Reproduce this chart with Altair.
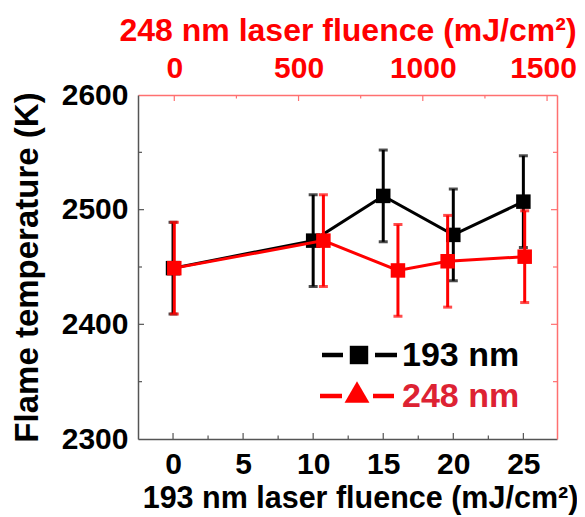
import altair as alt
import pandas as pd

# ---- data ----
fluence_193 = [0, 10, 15, 20, 25]
temp_193 = [2449, 2473, 2512, 2478, 2507]
err_193 = [40, 40, 40, 40, 40]

fluence_248 = [0, 600, 900, 1100, 1410]
temp_248 = [2449, 2473, 2447, 2455, 2459]
err_248 = [40, 40, 40, 40, 40]

series_names = ["193 nm", "248 nm"]

x193_major = [0, 5, 10, 15, 20, 25]
x193_minor = [2.5, 7.5, 12.5, 17.5, 22.5]
x248_major = [0, 500, 1000, 1500]
x248_minor = [250, 750, 1250]
y_labels = [2300, 2400, 2500, 2600]
y_major = [2400, 2500]
y_minor = [2350, 2450, 2550]

# ---- style ----
W, H = 419, 344
FONT = "Liberation Sans"
BLACK = "#000000"
RED = "#ff0000"
FRAME_DARK = "#555555"
FRAME_RED = "#ff7070"

d193 = pd.DataFrame({
    "f": fluence_193, "t": temp_193,
    "lo": [t - e for t, e in zip(temp_193, err_193)],
    "hi": [t + e for t, e in zip(temp_193, err_193)],
})
d248 = pd.DataFrame({
    "f": fluence_248, "t": temp_248,
    "lo": [t - e for t, e in zip(temp_248, err_248)],
    "hi": [t + e for t, e in zip(temp_248, err_248)],
})

xb_scale = alt.Scale(domain=[-2.5, 27.4], nice=False, zero=False)
xt_scale = alt.Scale(domain=[-146, 1540], nice=False, zero=False)
y_scale = alt.Scale(domain=[2300, 2600], nice=False, zero=False)

xb_axis = alt.Axis(
    values=x193_major, format="d", ticks=False, grid=False, domain=True,
    domainColor=FRAME_DARK, domainWidth=1.5,
    labelFont=FONT, labelFontSize=30, labelFontWeight="bold", labelColor=BLACK,
    labelPadding=10, labelFlush=False,
    title="193 nm laser fluence (mJ/cm²)", titleFont=FONT, titleFontSize=30.5,
    titleFontWeight="bold", titleColor=BLACK, titlePadding=4, titleX=222,
)
yl_axis = alt.Axis(
    values=y_labels, format="d", ticks=False, grid=False, domain=True,
    domainColor=FRAME_DARK, domainWidth=1.5,
    labelFont=FONT, labelFontSize=30, labelFontWeight="bold", labelColor=BLACK,
    labelPadding=10, labelFlush=False,
    title="Flame temperature (K)", titleFont=FONT, titleFontSize=33,
    titleFontWeight="bold", titleColor=BLACK, titlePadding=17,
)
xt_axis = alt.Axis(
    orient="top", values=x248_major, format="d", ticks=False, grid=False, domain=True,
    domainColor=FRAME_RED, domainWidth=1.5,
    labelFont=FONT, labelFontSize=30, labelFontWeight="bold", labelColor=RED,
    labelPadding=12, labelFlush=False,
    labelOffset={"expr": "datum.value == 1500 ? -4 : 0"},
    title="248 nm laser fluence (mJ/cm²)", titleFont=FONT, titleFontSize=32,
    titleFontWeight="bold", titleColor=RED, titlePadding=6,
)
yr_axis = alt.Axis(
    orient="right", values=y_labels, ticks=False, grid=False, domain=True,
    domainColor=FRAME_RED, domainWidth=1.5, labels=False, title=None,
)

# ---- black (193 nm) group: bottom x, left y ----
bx = alt.X("f:Q", scale=xb_scale, axis=xb_axis)
base_b = alt.Chart(d193)
b_line = base_b.mark_line(color=BLACK, strokeWidth=3).encode(
    x=bx, y=alt.Y("t:Q", scale=y_scale, axis=yl_axis))
b_err = base_b.mark_rule(color=BLACK, strokeWidth=3).encode(
    x=bx, y=alt.Y("lo:Q", scale=y_scale, axis=yl_axis), y2="hi:Q")
b_cap_lo = base_b.mark_tick(color=BLACK, orient="horizontal", size=9, thickness=3).encode(
    x=bx, y=alt.Y("lo:Q", scale=y_scale, axis=yl_axis))
b_cap_hi = base_b.mark_tick(color=BLACK, orient="horizontal", size=9, thickness=3).encode(
    x=bx, y=alt.Y("hi:Q", scale=y_scale, axis=yl_axis))
b_pts = base_b.mark_point(shape="square", filled=True, color=BLACK, size=210, opacity=1).encode(
    x=bx, y=alt.Y("t:Q", scale=y_scale, axis=yl_axis))

tick_b_major = alt.Chart(pd.DataFrame({"v": x193_major})).mark_rule(color=FRAME_DARK, strokeWidth=1.2).encode(
    x=alt.X("v:Q", scale=xb_scale, axis=xb_axis), y=alt.value(H), y2=alt.value(H - 6))
tick_b_minor = alt.Chart(pd.DataFrame({"v": x193_minor})).mark_rule(color=FRAME_DARK, strokeWidth=1.2).encode(
    x=alt.X("v:Q", scale=xb_scale, axis=xb_axis), y=alt.value(H), y2=alt.value(H - 3.5))
tick_l_major = alt.Chart(pd.DataFrame({"v": y_major})).mark_rule(color=FRAME_DARK, strokeWidth=1.2).encode(
    y=alt.Y("v:Q", scale=y_scale, axis=yl_axis), x=alt.value(0), x2=alt.value(6))
tick_l_minor = alt.Chart(pd.DataFrame({"v": y_minor})).mark_rule(color=FRAME_DARK, strokeWidth=1.2).encode(
    y=alt.Y("v:Q", scale=y_scale, axis=yl_axis), x=alt.value(0), x2=alt.value(4))

# legend (manual, inside plot)
leg1 = pd.DataFrame({"name": [series_names[0]]})
leg2 = pd.DataFrame({"name": [series_names[1]]})
lg_b_l = alt.Chart(leg1).mark_rule(color=BLACK, strokeWidth=4.5).encode(
    x=alt.value(184), x2=alt.value(205), y=alt.value(260))
lg_b_r = alt.Chart(leg1).mark_rule(color=BLACK, strokeWidth=4.5).encode(
    x=alt.value(237), x2=alt.value(259), y=alt.value(260))
lg_b_pt = alt.Chart(leg1).mark_point(shape="square", filled=True, color=BLACK, size=340, opacity=1).encode(
    x=alt.value(221), y=alt.value(260))
lg_b_tx = alt.Chart(leg1).mark_text(align="left", baseline="middle", font=FONT, fontSize=34,
                                    fontWeight="bold", color=BLACK).encode(
    x=alt.value(264), y=alt.value(261), text="name:N")
lg_r_l = alt.Chart(leg2).mark_rule(color=RED, strokeWidth=4.5).encode(
    x=alt.value(182), x2=alt.value(204), y=alt.value(301))
lg_r_r = alt.Chart(leg2).mark_rule(color=RED, strokeWidth=4.5).encode(
    x=alt.value(235), x2=alt.value(256), y=alt.value(301))
lg_r_pt = alt.Chart(leg2).mark_point(shape="triangle-up", filled=True, color=RED, size=620, opacity=1).encode(
    x=alt.value(219), y=alt.value(297))
lg_r_tx = alt.Chart(leg2).mark_text(align="left", baseline="middle", font=FONT, fontSize=34,
                                    fontWeight="bold", color="#dd2233").encode(
    x=alt.value(264), y=alt.value(302), text="name:N")

black_group = alt.layer(
    tick_b_major, tick_b_minor, tick_l_major, tick_l_minor,
    b_line, b_err, b_cap_lo, b_cap_hi, b_pts,
    lg_b_l, lg_b_r, lg_b_pt, lg_b_tx, lg_r_l, lg_r_r, lg_r_pt, lg_r_tx,
)

# ---- red (248 nm) group: top x, right y ----
rx = alt.X("f:Q", scale=xt_scale, axis=xt_axis)
base_r = alt.Chart(d248)
r_line = base_r.mark_line(color=RED, strokeWidth=3).encode(
    x=rx, y=alt.Y("t:Q", scale=y_scale, axis=yr_axis))
r_err = base_r.mark_rule(color=RED, strokeWidth=3).encode(
    x=rx, y=alt.Y("lo:Q", scale=y_scale, axis=yr_axis), y2="hi:Q")
r_cap_lo = base_r.mark_tick(color=RED, orient="horizontal", size=9, thickness=3).encode(
    x=rx, y=alt.Y("lo:Q", scale=y_scale, axis=yr_axis))
r_cap_hi = base_r.mark_tick(color=RED, orient="horizontal", size=9, thickness=3).encode(
    x=rx, y=alt.Y("hi:Q", scale=y_scale, axis=yr_axis))
r_pts = base_r.mark_point(shape="square", filled=True, color=RED, size=210, opacity=1).encode(
    x=rx, y=alt.Y("t:Q", scale=y_scale, axis=yr_axis))

tick_t_major = alt.Chart(pd.DataFrame({"v": x248_major})).mark_rule(color=FRAME_RED, strokeWidth=1.2).encode(
    x=alt.X("v:Q", scale=xt_scale, axis=xt_axis), y=alt.value(0), y2=alt.value(6))
tick_t_minor = alt.Chart(pd.DataFrame({"v": x248_minor})).mark_rule(color=FRAME_RED, strokeWidth=1.2).encode(
    x=alt.X("v:Q", scale=xt_scale, axis=xt_axis), y=alt.value(0), y2=alt.value(3.5))
tick_r_major = alt.Chart(pd.DataFrame({"v": y_major})).mark_rule(color=FRAME_RED, strokeWidth=1.2).encode(
    y=alt.Y("v:Q", scale=y_scale, axis=yr_axis), x=alt.value(W), x2=alt.value(W - 6))
tick_r_minor = alt.Chart(pd.DataFrame({"v": y_minor})).mark_rule(color=FRAME_RED, strokeWidth=1.2).encode(
    y=alt.Y("v:Q", scale=y_scale, axis=yr_axis), x=alt.value(W), x2=alt.value(W - 4))

red_group = alt.layer(
    tick_t_major, tick_t_minor, tick_r_major, tick_r_minor,
    r_line, r_err, r_cap_lo, r_cap_hi, r_pts,
)

chart = alt.layer(black_group, red_group).resolve_scale(
    x="independent", y="independent"
).resolve_axis(
    x="independent", y="independent"
).properties(
    width=W, height=H,
    padding={"left": 130, "top": 87, "right": 20, "bottom": 76},
    autosize=alt.AutoSizeParams(type="none"),
).configure_view(stroke=None)

chart.save("out.html", embed_options={"renderer": "svg", "actions": False})
